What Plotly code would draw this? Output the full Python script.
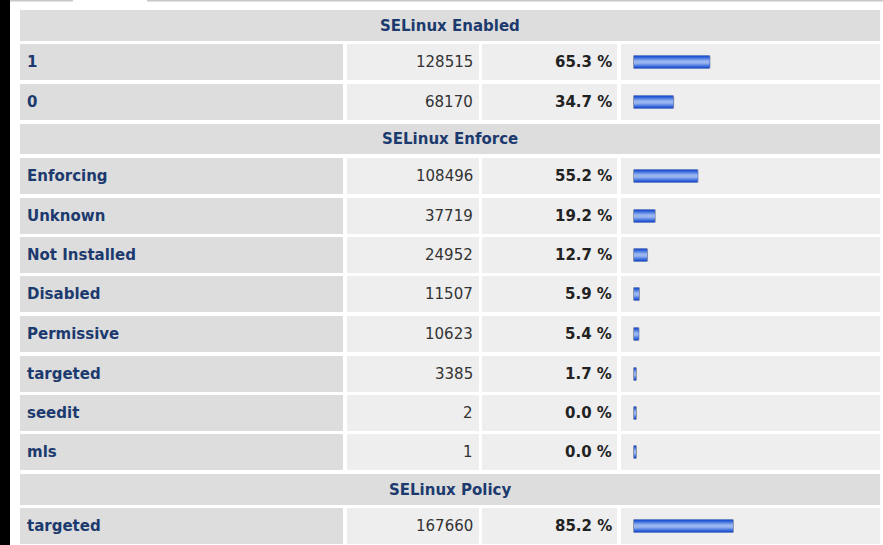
import plotly.graph_objects as go

# ---------------- data ----------------
section_titles = ["SELinux Enabled", "SELinux Enforce", "SELinux Policy"]

enabled_labels = ["1", "0"]
enabled_counts = [128515, 68170]
enabled_pct = [65.3, 34.7]

enforce_labels = ["Enforcing", "Unknown", "Not Installed", "Disabled",
                  "Permissive", "targeted", "seedit", "mls"]
enforce_counts = [108496, 37719, 24952, 11507, 10623, 3385, 2, 1]
enforce_pct = [55.2, 19.2, 12.7, 5.9, 5.4, 1.7, 0.0, 0.0]

policy_labels = ["targeted"]
policy_counts = [167660]
policy_pct = [85.2]

sections = [
    (section_titles[0], enabled_labels, enabled_counts, enabled_pct),
    (section_titles[1], enforce_labels, enforce_counts, enforce_pct),
    (section_titles[2], policy_labels, policy_counts, policy_pct),
]

# ---------------- layout constants ----------------
W, H = 883, 545
TOP = 10
HEADER_H = 31
ROW_H = 36
GAP = 3.5
COLS = [(20, 343), (347, 479), (482, 617), (621, 880)]
BAR_X0 = 633
PX_PER_PCT = 1.185
MIN_BAR_PX = 4
BAR_H = 13

FONT = "DejaVu Sans"
LABEL_COLOR = "#1c3a6e"
DARK_FILL = "#dddddd"
LIGHT_FILL = "#eeeeee"

shapes = []
annotations = []

# page decorations
shapes.append(dict(type="rect", xref="x", yref="y", x0=0, x1=10, y0=0, y1=H,
                   fillcolor="#000000", line_width=0, layer="below"))
shapes.append(dict(type="rect", xref="x", yref="y", x0=10, x1=73, y0=0, y1=1.5,
                   fillcolor="#c8c8c8", line_width=0, layer="below"))
shapes.append(dict(type="rect", xref="x", yref="y", x0=147, x1=W, y0=0, y1=1.5,
                   fillcolor="#c8c8c8", line_width=0, layer="below"))

row_centers, row_pcts = [], []
y = TOP
for title, labels, counts, pcts in sections:
    y0, y1 = round(y), round(y + HEADER_H)
    shapes.append(dict(type="rect", xref="x", yref="y", x0=COLS[0][0], x1=COLS[3][1],
                       y0=y0, y1=y1, fillcolor=DARK_FILL, line_width=0, layer="below"))
    annotations.append(dict(x=(COLS[0][0] + COLS[3][1]) / 2, y=(y0 + y1) / 2, text=title,
                            xref="x", yref="y", showarrow=False, xanchor="center",
                            yanchor="middle", borderpad=0, borderwidth=0,
                            font=dict(family=FONT, size=15, color=LABEL_COLOR, weight="bold")))
    y += HEADER_H + GAP
    for lab, cnt, pct in zip(labels, counts, pcts):
        y0, y1 = round(y), round(y + ROW_H)
        yc = (y0 + y1) / 2
        for ci, (cx0, cx1) in enumerate(COLS):
            shapes.append(dict(type="rect", xref="x", yref="y", x0=cx0, x1=cx1,
                               y0=y0, y1=y1, fillcolor=DARK_FILL if ci == 0 else LIGHT_FILL,
                               line_width=0, layer="below"))
        annotations.append(dict(x=27, y=yc, text=lab, xref="x", yref="y", showarrow=False,
                                xanchor="left", yanchor="middle", borderpad=0, borderwidth=0,
                                font=dict(family=FONT, size=15, color=LABEL_COLOR, weight="bold")))
        annotations.append(dict(x=473, y=yc, text=str(cnt), xref="x", yref="y", showarrow=False,
                                xanchor="right", yanchor="middle", borderpad=0, borderwidth=0,
                                font=dict(family=FONT, size=15, color="#333333")))
        annotations.append(dict(x=612, y=yc, text=f"{pct:.1f} %", xref="x", yref="y",
                                showarrow=False, xanchor="right", yanchor="middle",
                                borderpad=0, borderwidth=0,
                                font=dict(family=FONT, size=15, color="#222222", weight="bold")))
        row_centers.append(yc)
        row_pcts.append(pct)
        y += ROW_H + GAP

# ---------------- bars (gradient made of stacked layers) ----------------
min_pct = MIN_BAR_PX / PX_PER_PCT
bar_len = [max(p, min_pct) for p in row_pcts]
px = 1 / PX_PER_PCT

fig = go.Figure()
# outer grey end caps
fig.add_trace(go.Bar(y=row_centers, x=bar_len, base=0, orientation="h", width=BAR_H,
                     marker=dict(color="#8f93a6", line_width=0), xaxis="x2", yaxis="y",
                     hoverinfo="skip", showlegend=False))
layers = [(13, "#1b4cc8"), (11, "#2a5cd6"), (9, "#4473de"), (7, "#5f8ae4"),
          (5, "#7ea0ea"), (3, "#9ab6f0")]
for h, col in layers:
    fig.add_trace(go.Bar(y=row_centers, x=[b - 2 * px for b in bar_len], base=px,
                         orientation="h", width=h,
                         marker=dict(color=col, line_width=0), xaxis="x2", yaxis="y",
                         hoverinfo="skip", showlegend=False))

fig.update_layout(
    width=W, height=H, margin=dict(l=0, r=0, t=0, b=0),
    paper_bgcolor="white", plot_bgcolor="rgba(0,0,0,0)",
    barmode="overlay",
    xaxis=dict(range=[0, W], visible=False, fixedrange=True, domain=[0, 1]),
    xaxis2=dict(range=[0, (W - BAR_X0) / PX_PER_PCT], visible=False, fixedrange=True,
                domain=[BAR_X0 / W, 1], anchor="y"),
    yaxis=dict(range=[H, 0], visible=False, fixedrange=True, domain=[0, 1]),
    shapes=shapes, annotations=annotations,
    font=dict(family=FONT),
)

fig.write_html("out.html", config={"displayModeBar": False, "staticPlot": True},
               post_script="document.body.style.margin='0';document.body.style.overflow='hidden';")
